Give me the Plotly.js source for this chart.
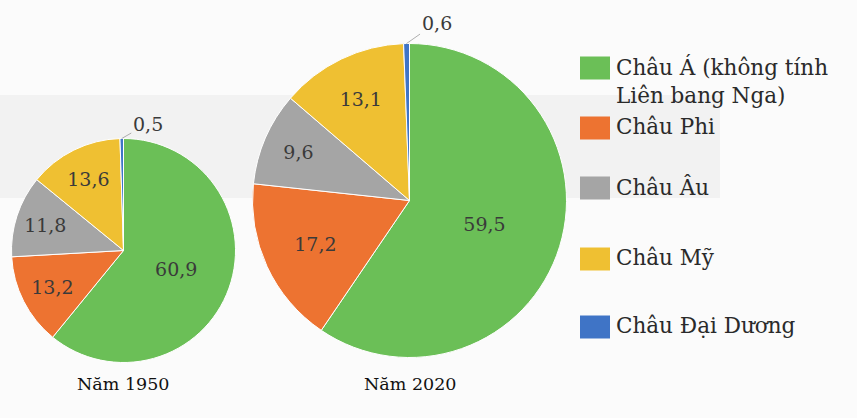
<!DOCTYPE html>
<html>
<head>
<meta charset="utf-8">
<script src="https://cdn.plot.ly/plotly-3.0.1.min.js"></script>
<style>html,body{margin:0;padding:0;background:#fff;}#chart{width:857px;height:418px;}</style>
</head>
<body>
<div id="chart"></div>
<script>
// ---- data ----
const categories = ["Châu Á (không tính<br>Liên bang Nga)", "Châu Phi", "Châu Âu", "Châu Mỹ", "Châu Đại Dương"];
const values1950 = [60.9, 13.2, 11.8, 13.6, 0.5];
const values2020 = [59.5, 17.2, 9.6, 13.1, 0.6];
const pieTitles = ["Năm 1950", "Năm 2020"];
const colors = ["#6bbf57", "#ed7331", "#a5a5a5", "#efc032", "#3f74c6"];

// ---- layout helpers ----
const W = 857, H = 418;
const px = x => x / W;
const py = y => 1 - y / H;
const serif = "DejaVu Serif";

const pies = [
  { vals: values1950, cx: 123.5, cy: 250.5, r: 112, title: [123, 384], off: [26, -15] },
  { vals: values2020, cx: 409.5, cy: 200.5, r: 157, title: [410, 384], off: [30, -21] }
];

function pieTrace(p) {
  const n = p.vals.length;
  return {
    type: "pie",
    values: p.vals,
    labels: categories,
    sort: false,
    direction: "clockwise",
    rotation: 0,
    marker: { colors: colors, line: { color: "#ffffff", width: 1 } },
    texttemplate: "%{value:.1f}",
    textposition: p.vals.map((v, i) => i === n - 1 ? "none" : "inside"),
    insidetextorientation: "horizontal",
    textfont: { family: serif, size: 19, color: "#3a3a3a" },
    insidetextfont: { family: serif, size: 19, color: "#3a3a3a" },
    showlegend: false,
    hoverinfo: "label+value",
    domain: { x: [px(p.cx - p.r), px(p.cx + p.r)], y: [py(p.cy + p.r), py(p.cy - p.r)] }
  };
}

const data = pies.map(pieTrace);

const shapes = [
  { type: "rect", xref: "paper", yref: "paper", layer: "below",
    x0: 0, x1: px(720), y0: py(198), y1: py(95),
    fillcolor: "#f2f2f2", line: { width: 0 } }
];
const annotations = [];

// outside label for the smallest (last) slice, placed from its angle
pies.forEach(p => {
  const total = p.vals.reduce((a, b) => a + b, 0);
  const n = p.vals.length;
  const before = p.vals.slice(0, n - 1).reduce((a, b) => a + b, 0);
  const mid = (before + p.vals[n - 1] / 2) / total * 2 * Math.PI;
  const ex = p.cx + p.r * Math.sin(mid);
  const ey = p.cy - p.r * Math.cos(mid);
  annotations.push({ xref: "paper", yref: "paper", x: px(ex), y: py(ey),
    ax: p.off[0], ay: p.off[1], showarrow: true, arrowhead: 0, arrowwidth: 0.8,
    arrowcolor: "#9a9a9a", standoff: 0,
    text: p.vals[n - 1].toFixed(1).replace(".", ","),
    font: { family: serif, size: 19, color: "#3a3a3a" } });
  annotations.push({ xref: "paper", yref: "paper", x: px(p.title[0]), y: py(p.title[1]),
    xanchor: "center", yanchor: "middle", showarrow: false, text: pieTitles[pies.indexOf(p)],
    font: { family: serif, size: 17.5, color: "#111" } });
});

// custom legend built from categories and colors
const legendY = [68, 128, 188, 259, 327];
categories.forEach((c, i) => {
  shapes.push({ type: "rect", xref: "paper", yref: "paper",
    x0: px(580), x1: px(610), y0: py(legendY[i] + 11.5), y1: py(legendY[i] - 11.5),
    fillcolor: colors[i], line: { width: 0 } });
  annotations.push({ xref: "paper", yref: "paper", x: px(614), y: py(legendY[i] - 16),
    xanchor: "left", yanchor: "top", align: "left", showarrow: false, text: c,
    font: { family: serif, size: 21.5, color: "#2a2a2a" } });
});

const layout = {
  width: W, height: H,
  margin: { l: 0, r: 0, t: 0, b: 0 },
  paper_bgcolor: "#fbfbfb",
  plot_bgcolor: "#fbfbfb",
  font: { family: serif },
  separators: ",.",
  showlegend: false,
  shapes: shapes,
  annotations: annotations
};

Plotly.newPlot("chart", data, layout, { displayModeBar: false, staticPlot: true });
</script>
</body>
</html>
